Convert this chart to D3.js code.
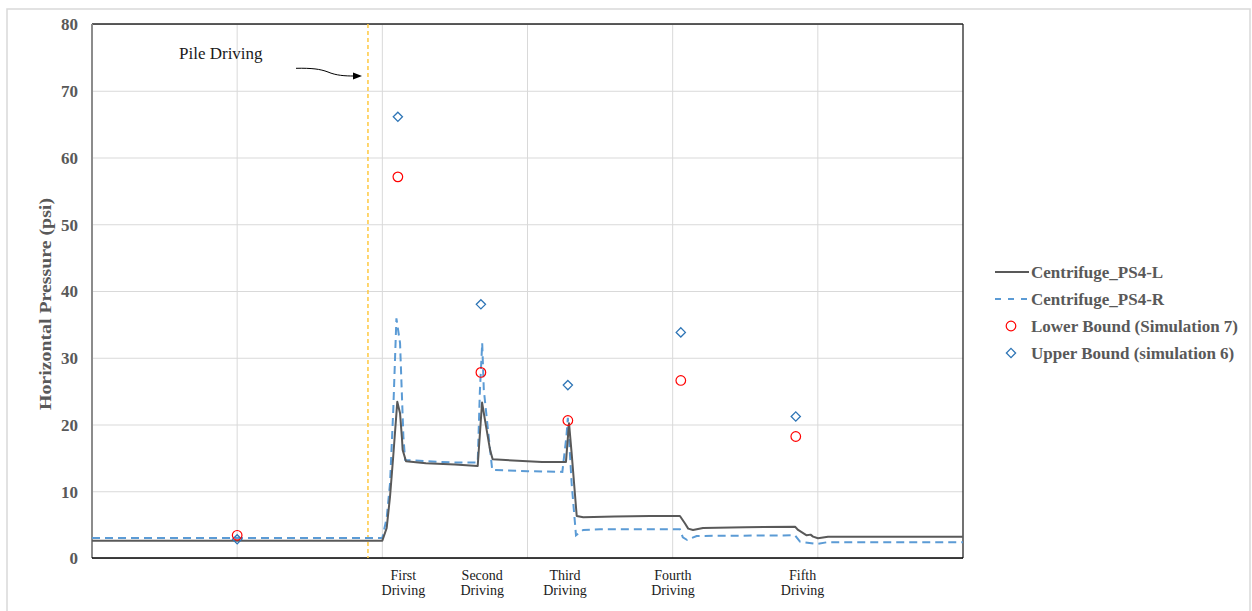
<!DOCTYPE html>
<html><head><meta charset="utf-8">
<script src="https://cdn.jsdelivr.net/npm/d3@7"></script>
<style>body{margin:0;background:#fff}svg{display:block}</style>
</head><body>
<svg id="chart" width="1252" height="611"></svg>
<script>
// ---- data ----
const psLX = [0, 2.0, 2.03, 2.053, 2.075, 2.103, 2.122, 2.135, 2.140, 2.163, 2.3, 2.5, 2.657, 2.667, 2.687, 2.707, 2.742, 2.760, 2.9, 3.1, 3.265, 3.286, 3.304, 3.339, 3.384, 3.6, 3.844, 4.05, 4.084, 4.107, 4.14, 4.209, 4.5, 4.843, 4.864, 4.923, 4.95, 4.967, 5.001, 5.07, 6.0];
const psLY = [2.6, 2.6, 4.5, 9.2, 15.2, 23.4, 21.7, 18.0, 16.2, 14.5, 14.2, 14.0, 13.8, 17.0, 23.3, 20.7, 16.2, 14.8, 14.6, 14.4, 14.4, 20.2, 15.7, 6.3, 6.1, 6.2, 6.3, 6.3, 5.2, 4.4, 4.2, 4.5, 4.6, 4.7, 4.2, 3.4, 3.5, 3.2, 2.95, 3.2, 3.2];
const psRX = [0, 2.0, 2.03, 2.053, 2.075, 2.097, 2.122, 2.145, 2.157, 2.3, 2.5, 2.657, 2.672, 2.688, 2.699, 2.722, 2.757, 3.0, 3.24, 3.268, 3.278, 3.304, 3.334, 3.384, 3.5, 4.05, 4.07, 4.10, 4.165, 4.843, 4.877, 4.99, 5.06, 6.0];
const psRY = [3.0, 3.0, 6.0, 11.2, 22.0, 35.9, 32.2, 18.2, 14.7, 14.5, 14.3, 14.3, 25.0, 32.2, 25.2, 20.4, 13.2, 13.0, 12.9, 18.2, 21.0, 11.2, 3.4, 4.2, 4.3, 4.3, 3.1, 2.7, 3.3, 3.4, 2.45, 2.1, 2.35, 2.35];
const boundX = [1.0, 2.107, 2.679, 3.278, 4.056, 4.848];
const lowerBound = [3.4, 57.1, 27.8, 20.6, 26.6, 18.2];
const upperBound = [2.8, 66.1, 38.0, 25.9, 33.8, 21.2];
const yTicks = [0, 10, 20, 30, 40, 50, 60, 70, 80];
const xGrid = [1, 2, 3, 4, 5];
const drivingLabels = [["First", "Driving"], ["Second", "Driving"], ["Third", "Driving"], ["Fourth", "Driving"], ["Fifth", "Driving"]];
const drivingX = [2.145, 2.688, 3.258, 4.002, 4.895];
const pileDrivingX = 1.901;
const seriesNames = ["Centrifuge_PS4-L", "Centrifuge_PS4-R", "Lower Bound (Simulation 7)", "Upper Bound (simulation 6)"];

// ---- layout ----
const svg = d3.select("#chart");
const L = 92, R = 963, T = 24, B = 558;
const x = d3.scaleLinear().domain([0, 6]).range([L, R]);
const y = d3.scaleLinear().domain([0, 80]).range([B, T]);
const serif = "'Liberation Serif', 'Times New Roman', serif";
const gray = "#595959", blue = "#5B9BD5", red = "#FF0000", dBlue = "#2E75B6";

// outer frame
svg.append("rect").attr("x", 7).attr("y", 9).attr("width", 1243).attr("height", 640)
  .attr("fill", "none").attr("stroke", "#d9d9d9").attr("stroke-width", 1.5);

// horizontal grid
svg.append("g").attr("transform", `translate(${L},0)`)
  .call(d3.axisLeft(y).tickValues(yTicks).tickSize(-(R - L)).tickFormat(""))
  .call(g => g.select(".domain").remove())
  .call(g => g.selectAll("line").attr("stroke", "#d9d9d9").attr("stroke-width", 1));
// vertical grid
svg.append("g").selectAll("line").data(xGrid).join("line")
  .attr("x1", d => x(d)).attr("x2", d => x(d)).attr("y1", T).attr("y2", B)
  .attr("stroke", "#d9d9d9").attr("stroke-width", 1);

// y tick labels
svg.append("g").attr("transform", `translate(${L - 14},0)`)
  .call(d3.axisLeft(y).tickValues(yTicks).tickSize(0).tickPadding(0))
  .call(g => g.select(".domain").remove())
  .call(g => g.selectAll("text").attr("font-family", serif).attr("font-size", 17)
    .attr("font-weight", "bold").attr("fill", gray).attr("dy", "0.34em"));

// borders
svg.append("line").attr("x1", L).attr("x2", R).attr("y1", T).attr("y2", T).attr("stroke", "#262626").attr("stroke-width", 1.3);
svg.append("line").attr("x1", R).attr("x2", R).attr("y1", T).attr("y2", B).attr("stroke", "#262626").attr("stroke-width", 1.3);
svg.append("line").attr("x1", L).attr("x2", L).attr("y1", T).attr("y2", B).attr("stroke", "#8c8c8c").attr("stroke-width", 2);
svg.append("line").attr("x1", L).attr("x2", R).attr("y1", B).attr("y2", B).attr("stroke", "#000").attr("stroke-width", 1.5);

// pile driving line
svg.append("line").attr("x1", x(pileDrivingX)).attr("x2", x(pileDrivingX)).attr("y1", T).attr("y2", B)
  .attr("stroke", "#FFC940").attr("stroke-width", 1.5).attr("stroke-dasharray", "4,3");

// series lines
const line = d3.line().x(d => x(d[0])).y(d => y(d[1]));
svg.append("path").datum(psRX.map((v, i) => [v, psRY[i]])).attr("d", line)
  .attr("fill", "none").attr("stroke", blue).attr("stroke-width", 2).attr("stroke-dasharray", "8,5");
svg.append("path").datum(psLX.map((v, i) => [v, psLY[i]])).attr("d", line)
  .attr("fill", "none").attr("stroke", gray).attr("stroke-width", 2).attr("stroke-linejoin", "round");

// markers
const diamond = (cx, cy, r) => `M${cx},${cy - r}L${cx + r},${cy}L${cx},${cy + r}L${cx - r},${cy}Z`;
svg.append("g").selectAll("path").data(boundX.map((v, i) => [v, upperBound[i]])).join("path")
  .attr("d", d => diamond(x(d[0]), y(d[1]), 4.6)).attr("fill", "none")
  .attr("stroke", dBlue).attr("stroke-width", 1.3);
svg.append("g").selectAll("circle").data(boundX.map((v, i) => [v, lowerBound[i]])).join("circle")
  .attr("cx", d => x(d[0])).attr("cy", d => y(d[1])).attr("r", 4.8)
  .attr("fill", "none").attr("stroke", red).attr("stroke-width", 1.2);

// driving labels
const dl = svg.append("g").attr("font-family", serif).attr("font-size", 14).attr("fill", "#1a1a1a").attr("text-anchor", "middle");
drivingLabels.forEach((lab, i) => {
  lab.forEach((t, j) => {
    dl.append("text").attr("x", x(drivingX[i])).attr("y", 580 + j * 15).text(t);
  });
});

// pile driving annotation
svg.append("text").attr("x", 179).attr("y", 59).attr("font-family", serif).attr("font-size", 17)
  .attr("fill", "#1a1a1a").text("Pile Driving");
svg.append("path").attr("d", "M296,68.3 C312,68 320,69 328,72 C336,75.5 345,76 354,76")
  .attr("fill", "none").attr("stroke", "#000").attr("stroke-width", 1);
svg.append("path").attr("d", "M362,76 L353,72.5 L353,79.5 Z").attr("fill", "#000");

// y axis title
svg.append("text").attr("transform", "translate(51,304) rotate(-90)").attr("text-anchor", "middle")
  .attr("font-family", serif).attr("font-size", 16).attr("font-weight", "bold").attr("fill", gray)
  .attr("textLength", 212).attr("lengthAdjust", "spacingAndGlyphs")
  .text("Horizontal Pressure (psi)");

// legend
const lg = svg.append("g").attr("font-family", serif).attr("font-size", 17).attr("font-weight", "bold").attr("fill", gray);
const rowY = [272, 299, 326, 353];
seriesNames.forEach((n, i) => {
  lg.append("text").attr("x", 1031).attr("y", rowY[i]).attr("dy", "0.35em").text(n);
});
lg.append("line").attr("x1", 995).attr("x2", 1029).attr("y1", rowY[0]).attr("y2", rowY[0]).attr("stroke", gray).attr("stroke-width", 2);
lg.append("line").attr("x1", 995).attr("x2", 1028).attr("y1", rowY[1]).attr("y2", rowY[1]).attr("stroke", blue).attr("stroke-width", 2).attr("stroke-dasharray", "6,7");
lg.append("circle").attr("cx", 1011).attr("cy", rowY[2]).attr("r", 4.8).attr("fill", "none").attr("stroke", red).attr("stroke-width", 1.2);
lg.append("path").attr("d", diamond(1011, rowY[3], 4.6)).attr("fill", "none").attr("stroke", dBlue).attr("stroke-width", 1.3);
</script>
</body></html>
